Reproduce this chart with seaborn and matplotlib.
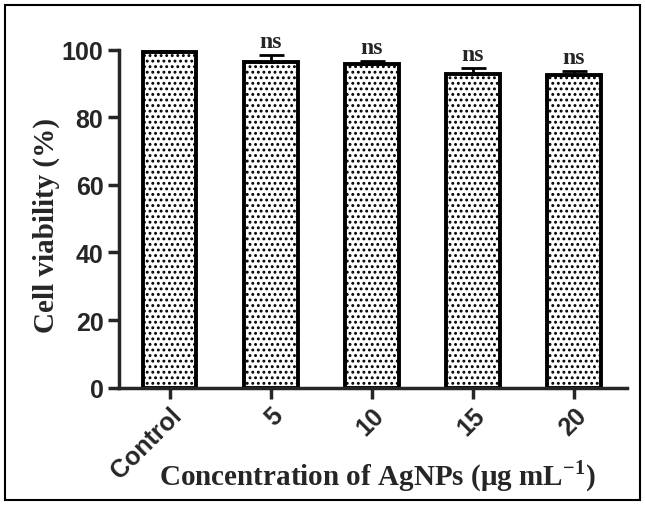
import numpy as np
import pandas as pd
import seaborn as sns
import matplotlib.pyplot as plt
from matplotlib.patches import Rectangle

groups = ["Control", "5", "10", "15", "20"]
viability = [99.3, 96.3, 95.8, 92.9, 92.6]
sd = [0.3, 2.0, 0.9, 1.7, 1.0]
signif = ["", "ns", "ns", "ns", "ns"]

sns.set_style("ticks")
plt.rcParams["hatch.linewidth"] = 1.3
plt.rcParams["mathtext.fontset"] = "custom"
plt.rcParams["mathtext.rm"] = "Liberation Serif:bold"

df = pd.DataFrame({"group": groups, "viability": viability})

fig = plt.figure(figsize=(6.45, 5.06), dpi=100)
ax = fig.add_axes([0.184, 0.232, 0.788, 0.668])

sns.barplot(data=df, x="group", y="viability", order=groups, color="white",
            edgecolor="black", linewidth=2.8, width=0.53, errorbar=None,
            hatch="...", ax=ax)

x = np.arange(len(groups))
ax.errorbar(x, viability, yerr=[np.zeros(len(sd)), sd], fmt="none",
            ecolor="black", elinewidth=2, capsize=9, capthick=2,
            clip_on=False, zorder=3)

for xi, v, e, s in zip(x, viability, sd, signif):
    if s:
        ax.text(xi, v + e + 0.9, s, ha="center", va="bottom",
                fontsize=17, fontweight="bold", family="Liberation Serif")

ax.set_ylim(0, 100)
ax.set_xlim(-0.505, 4.525)
ax.set_yticks([0, 20, 40, 60, 80, 100])
ax.set_xlabel("")
ax.set_ylabel("")

for side in ["top", "right"]:
    ax.spines[side].set_visible(False)
for side in ["left", "bottom"]:
    ax.spines[side].set_linewidth(2.5)
ax.tick_params(axis="both", width=2.5, length=8, labelsize=18, pad=3)

for lab in ax.get_yticklabels():
    lab.set_fontweight("bold")
    lab.set_family("Liberation Sans")
for lab in ax.get_xticklabels():
    lab.set_fontweight("bold")
    lab.set_family("Liberation Sans")
    lab.set_rotation(45)
    lab.set_ha("right")
    lab.set_rotation_mode("anchor")

fig.text(377 / 645, 1 - 485 / 506, "Concentration of AgNPs (μg mL$^{\\mathrm{-1}}$)",
         ha="center", va="baseline", fontsize=21, fontweight="bold",
         family="Liberation Serif")
fig.text(46 / 645, 1 - 226 / 506, "Cell viability (%)", rotation=90,
         ha="center", va="center", fontsize=21, fontweight="bold",
         family="Liberation Serif")

fig.patches.append(Rectangle((5 / 645, 5 / 506), 635 / 645, 495 / 506,
                             transform=fig.transFigure, fill=False,
                             edgecolor="black", linewidth=1.5))

fig.savefig("out.png", dpi=100)
